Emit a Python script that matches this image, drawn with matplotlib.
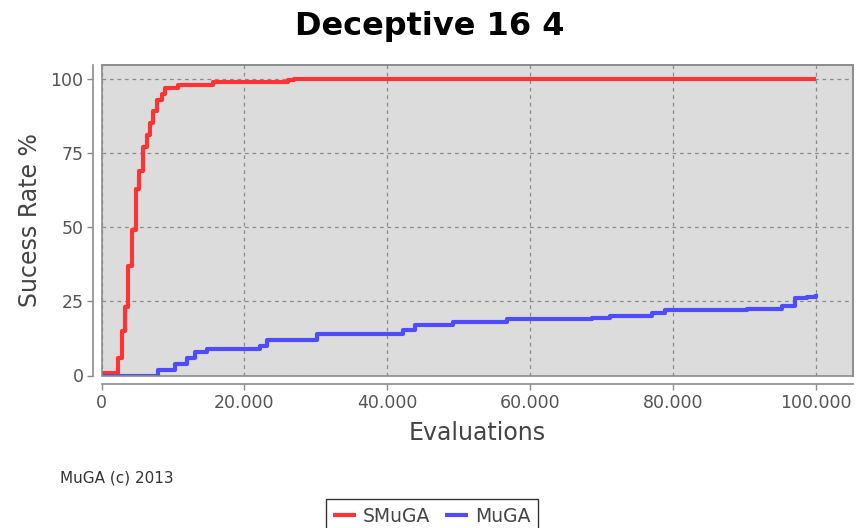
import matplotlib
matplotlib.use("Agg")
import matplotlib.pyplot as plt
from matplotlib.ticker import FuncFormatter, FixedLocator
from matplotlib.patches import Rectangle

# Data
smuga_x = [0, 2350, 2830, 3290, 3750, 4220, 4780, 5300, 5760, 6320, 6790, 7250,
           7720, 8420, 8890, 10750, 15650, 26150, 27000, 100000]
smuga_y = [1, 6, 15, 23, 37, 49, 63, 69, 77, 81, 85, 89,
           93, 95, 97, 98, 99, 99.5, 100, 100]

muga_x = [0, 7950, 10290, 12010, 13090, 14720, 22180, 23120, 30120, 42240, 43880,
          49240, 56710, 68610, 71170, 77010, 78870, 90300, 95200, 97060, 98700, 100000]
muga_y = [0, 2, 4, 6, 8, 9, 10, 12, 14, 15.5, 17,
          18, 19, 19.3, 20, 21, 22, 22.4, 23.5, 26, 26.6, 27.4]

x_ticks = [0, 20000, 40000, 60000, 80000, 100000]
y_ticks = [0, 25, 50, 75, 100]

W, H = 857, 528
fig = plt.figure(figsize=(W / 100, H / 100), dpi=100)
fig.patch.set_facecolor("white")

left, right, top, bottom = 101.5, 852.5, 64.5, 375.5
ax = fig.add_axes([left / W, 1 - bottom / H, (right - left) / W, (bottom - top) / H])
ax.set_facecolor("#dcdcdc")

ax.plot(smuga_x, smuga_y, drawstyle="steps-post", color="#ff3333", lw=3.0,
        solid_capstyle="butt", label="SMuGA", zorder=3)
ax.plot(muga_x, muga_y, drawstyle="steps-post", color="#4d4dff", lw=3.0,
        solid_capstyle="butt", label="MuGA", zorder=3)

ax.set_xlim(0, 105100)
ax.set_ylim(0, 104.8)

ax.xaxis.set_major_locator(FixedLocator(x_ticks))
ax.yaxis.set_major_locator(FixedLocator(y_ticks))
ax.xaxis.set_major_formatter(FuncFormatter(lambda v, p: f"{int(v):,}".replace(",", ".")))
ax.yaxis.set_major_formatter(FuncFormatter(lambda v, p: f"{int(v)}"))

ax.grid(True, color="#8c8c8c", linestyle=(0, (3, 3)), linewidth=0.9, zorder=1)
ax.set_axisbelow(True)

for s in ["top", "right"]:
    ax.spines[s].set_color("#8c8c8c")
    ax.spines[s].set_linewidth(1.2)
for s in ["left", "bottom"]:
    ax.spines[s].set_position(("outward", 6))
    ax.spines[s].set_color("#8c8c8c")
    ax.spines[s].set_linewidth(1.2)

# plot-area outline
ax.add_patch(Rectangle((0, 0), 1, 1, transform=ax.transAxes, fill=False,
                       edgecolor="#8c8c8c", linewidth=1.2, zorder=4, clip_on=False))

ax.tick_params(axis="both", colors="#8c8c8c", labelcolor="#555555",
               labelsize=12.5, length=4, width=1)
ax.tick_params(axis="x", pad=3)
ax.tick_params(axis="y", pad=3)

ax.set_xlabel("Evaluations", fontsize=17, color="#444444", labelpad=7)
ax.set_ylabel("Sucess Rate %", fontsize=17, color="#444444", labelpad=6)

fig.text(430 / W, 1 - 27 / H, "Deceptive 16 4", ha="center", va="center",
         fontsize=23, fontweight="bold", color="black")
fig.text(60 / W, 1 - 478 / H, "MuGA (c) 2013", ha="left", va="center",
         fontsize=11, color="#333333")

leg = fig.legend(loc="upper center", bbox_to_anchor=(432 / W, 1 - 490 / H), ncol=2,
                 frameon=True, fontsize=13.5, handlelength=1.2, handletextpad=0.4,
                 columnspacing=0.8, borderpad=0.4, fancybox=False)
leg.get_frame().set_edgecolor("black")
leg.get_frame().set_linewidth(1.0)
for t in leg.get_texts():
    t.set_color("#444444")

fig.savefig("out.png", dpi=100)
